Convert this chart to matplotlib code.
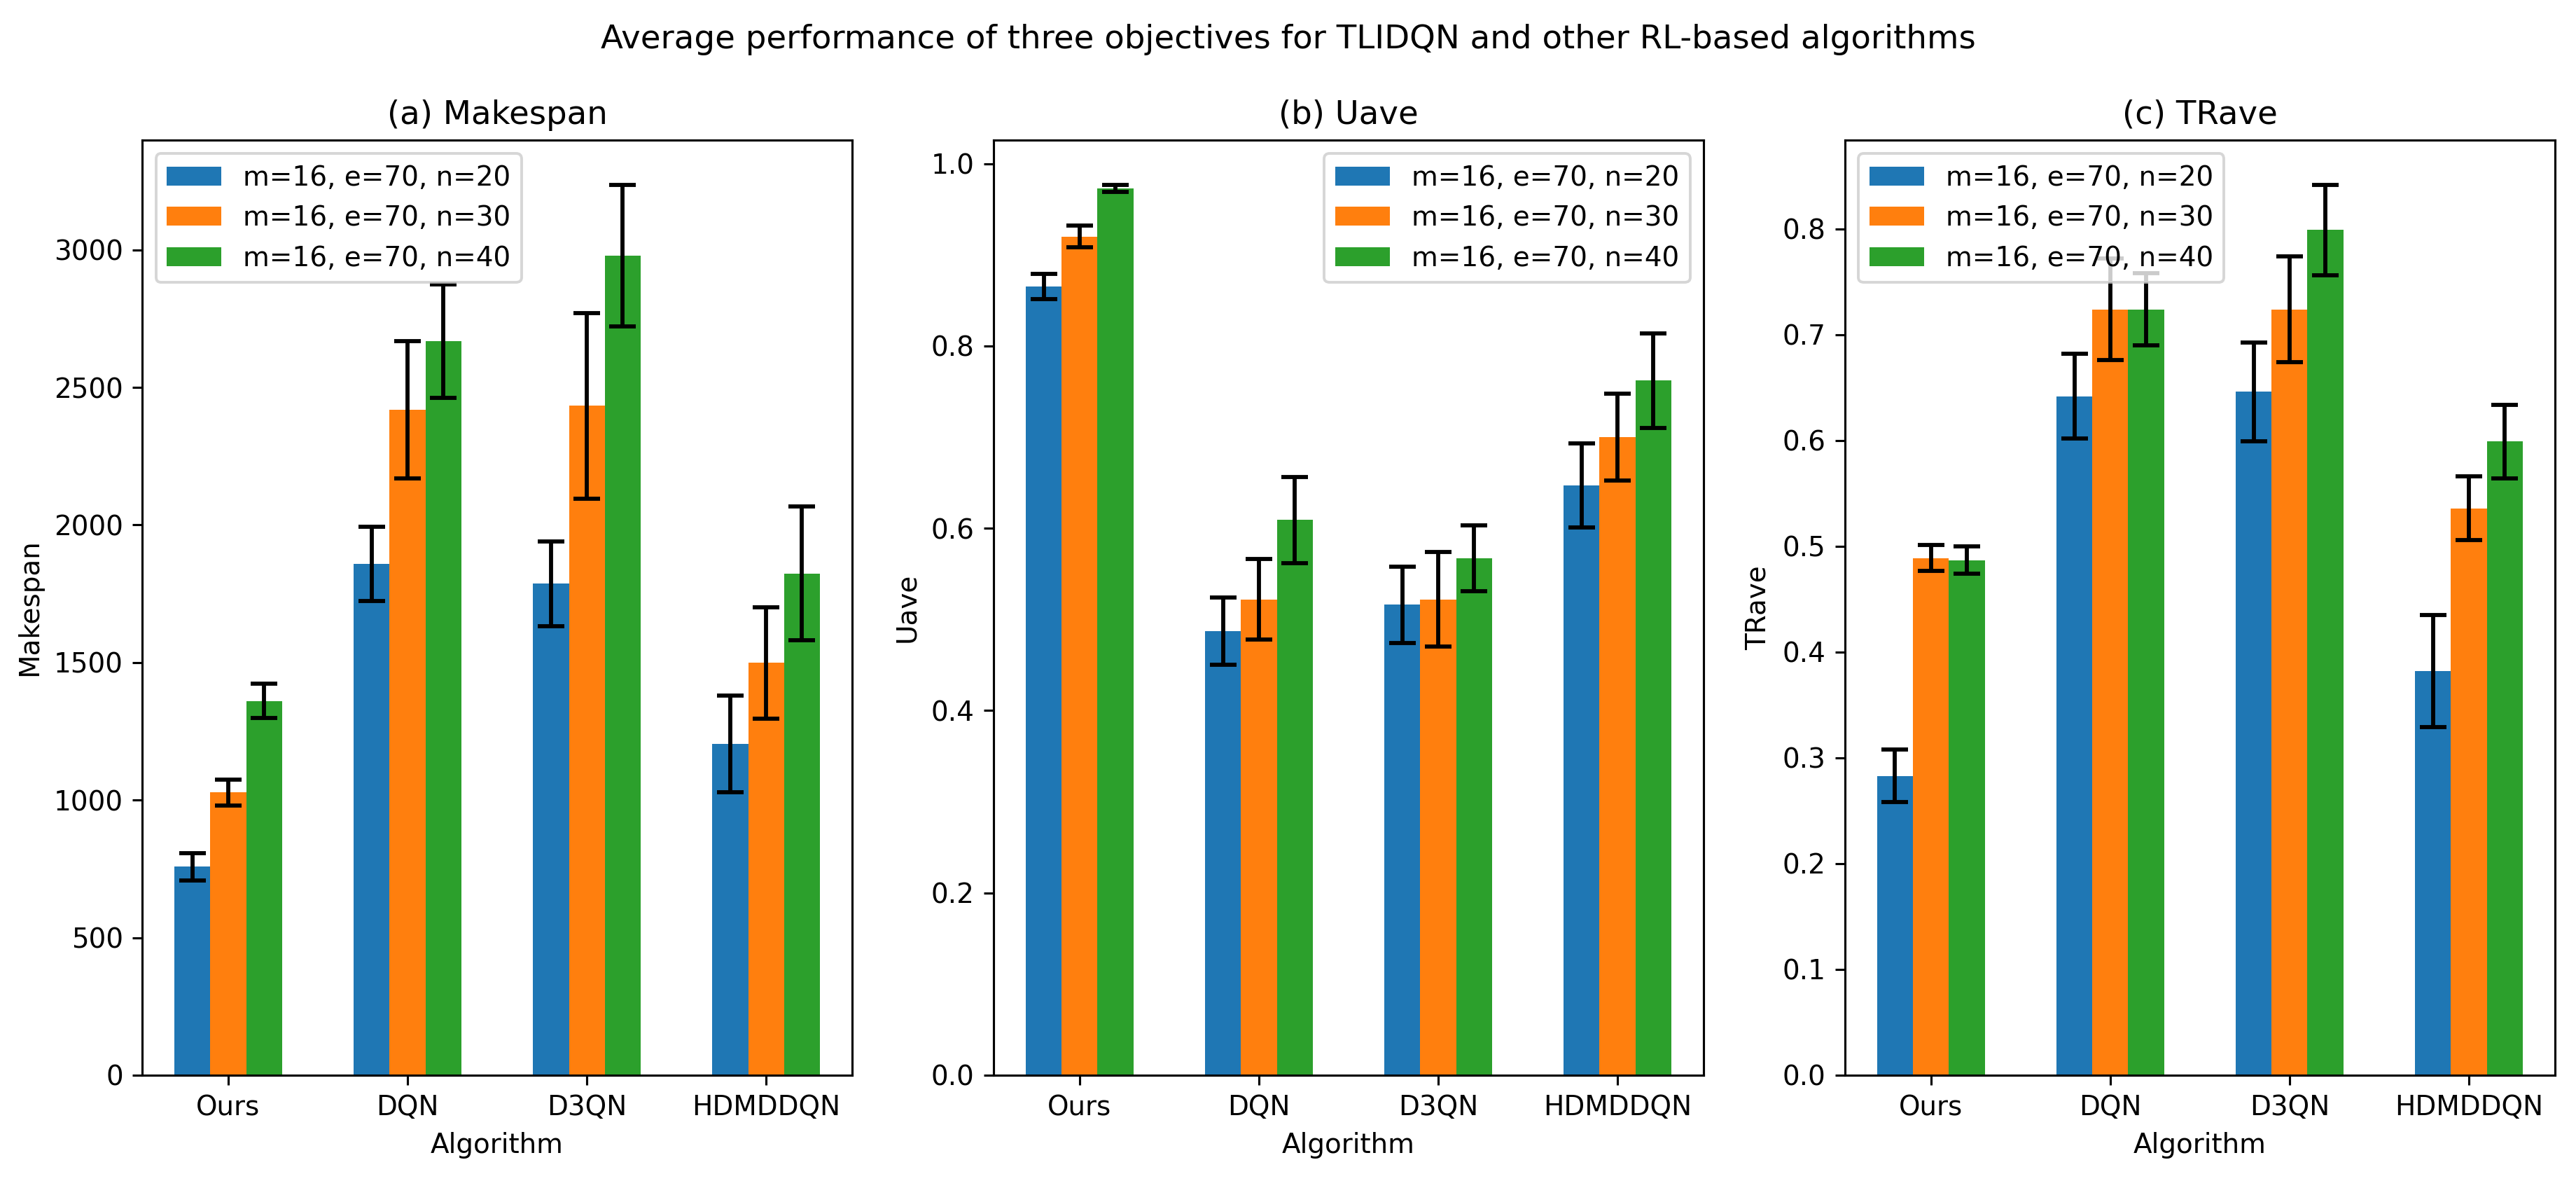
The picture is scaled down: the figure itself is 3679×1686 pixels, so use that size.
import matplotlib
matplotlib.use("Agg")
import matplotlib.pyplot as plt
import numpy as np

algorithms = ["Ours", "DQN", "D3QN", "HDMDDQN"]
labels = ["m=16, e=70, n=20", "m=16, e=70, n=30", "m=16, e=70, n=40"]

# makespan (mean, error) per setting
makespan_n20 = [758, 1859, 1786, 1205]
makespan_n30 = [1028, 2419, 2433, 1499]
makespan_n40 = [1360, 2668, 2979, 1824]
makespan_err_n20 = [50, 135, 153, 176]
makespan_err_n30 = [47, 250, 337, 202]
makespan_err_n40 = [62, 205, 258, 242]

# utilisation
uave_n20 = [0.865, 0.487, 0.516, 0.647]
uave_n30 = [0.920, 0.522, 0.522, 0.700]
uave_n40 = [0.973, 0.609, 0.567, 0.762]
uave_err_n20 = [0.014, 0.037, 0.042, 0.046]
uave_err_n30 = [0.012, 0.044, 0.052, 0.048]
uave_err_n40 = [0.004, 0.047, 0.036, 0.052]

# tardiness rate
trave_n20 = [0.283, 0.642, 0.646, 0.382]
trave_n30 = [0.489, 0.724, 0.724, 0.536]
trave_n40 = [0.487, 0.724, 0.799, 0.599]
trave_err_n20 = [0.025, 0.040, 0.047, 0.053]
trave_err_n30 = [0.012, 0.048, 0.050, 0.030]
trave_err_n40 = [0.013, 0.034, 0.043, 0.035]

panels = [
    ("(a) Makespan", "Makespan", [makespan_n20, makespan_n30, makespan_n40],
     [makespan_err_n20, makespan_err_n30, makespan_err_n40], "upper left"),
    ("(b) Uave", "Uave", [uave_n20, uave_n30, uave_n40],
     [uave_err_n20, uave_err_n30, uave_err_n40], "upper right"),
    ("(c) TRave", "TRave", [trave_n20, trave_n30, trave_n40],
     [trave_err_n20, trave_err_n30, trave_err_n40], "upper left"),
]

fig, axes = plt.subplots(1, 3, figsize=(3679 / 280, 1686 / 280), dpi=280)
plt.subplots_adjust(left=0.0552, right=0.9918, top=0.8814, bottom=0.0896, wspace=0.199)

x = np.arange(len(algorithms))
width = 0.2
for ax, (title, ylab, series, errs, loc) in zip(axes, panels):
    for i in range(3):
        ax.bar(x + (i - 1) * width, series[i], width, yerr=errs[i], capsize=5,
               error_kw={"elinewidth": 1.5, "capthick": 1.5, "ecolor": "black"},
               label=labels[i])
    ax.set_xticks(x)
    ax.set_xticklabels(algorithms)
    ax.set_xlabel("Algorithm")
    ax.set_ylabel(ylab)
    ax.set_title(title)
    ax.legend(loc=loc)

fig.suptitle("Average performance of three objectives for TLIDQN and other RL-based algorithms")
fig.savefig("out.png", dpi=280)
